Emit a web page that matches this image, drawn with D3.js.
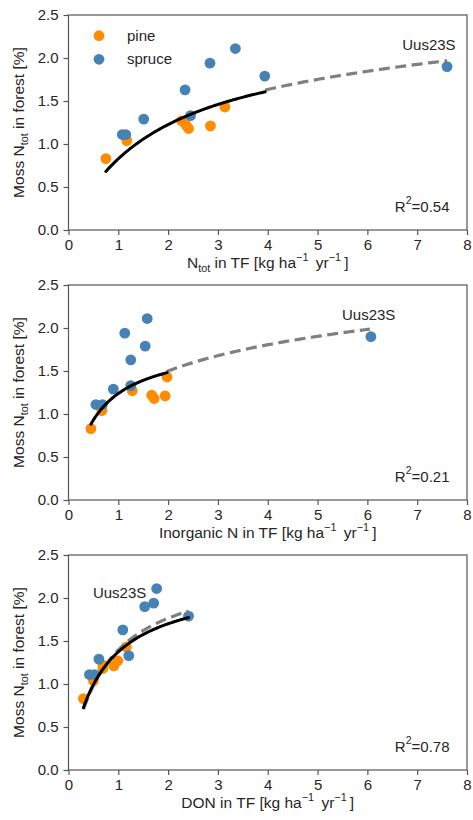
<!DOCTYPE html>
<html>
<head>
<meta charset="utf-8">
<script src="https://cdn.jsdelivr.net/npm/d3@7"></script>
<style>
  body { margin: 0; background: #fff; }
  text { font-family: "Liberation Sans", Arial, Helvetica, sans-serif; fill: #262626; }
</style>
</head>
<body>
<svg id="chart" width="473" height="820"></svg>
<script>
// Moss N concentration in forest sites against throughfall (TF) N deposition,
// with total N, inorganic N and dissolved organic N (DON) on the x axis.

const xTicks = [0, 1, 2, 3, 4, 5, 6, 7, 8];
const yTicks = [0, 0.5, 1.0, 1.5, 2.0, 2.5];
const speciesNames = ["pine", "spruce"];

// Moss N in forest [%], one entry per site (same sites in every panel)
const pineMossN   = [0.83, 1.04, 1.27, 1.22, 1.18, 1.21, 1.43];
const spruceMossN = [1.11, 1.11, 1.29, 1.63, 1.33, 1.94, 2.11, 1.79, 1.90];

// Throughfall deposition [kg ha-1 yr-1]
const pineNtot    = [0.75, 1.17, 2.27, 2.36, 2.41, 2.85, 3.14];
const pineInorgN  = [0.45, 0.67, 1.28, 1.67, 1.72, 1.94, 1.98];
const pineDON     = [0.30, 0.50, 0.99, 0.69, 0.69, 0.91, 1.16];
const spruceNtot   = [1.08, 1.15, 1.51, 2.34, 2.45, 2.84, 3.35, 3.94, 7.60];
const spruceInorgN = [0.55, 0.68, 0.90, 1.25, 1.25, 1.13, 1.58, 1.54, 6.07];
const spruceDON    = [0.52, 0.42, 0.61, 1.09, 1.21, 1.71, 1.77, 2.41, 1.53];

// Site flagged in every panel (index into the spruce arrays)
const outlierName = "Uus23S";
const outlierIndex = 8;
const outlierLabelAt = [[6.70, 2.09], [5.49, 2.09], [0.49, 2.00]];

// Fits: saturating fit without the outlier (solid), fit including it (dashed)
// mm: y = V*x/(K+x);  log: y = a + b*ln(x)
const fitSolid = [
  { model: "mm", p: [2.36, 1.85], from: 0.75, to: 3.95 },
  { model: "mm", p: [1.85, 0.494], from: 0.45, to: 1.98 },
  { model: "mm", p: [2.23, 0.623], from: 0.30, to: 2.41 }
];
const fitDashed = [
  { model: "log", p: [0.914, 0.52], from: 3.95, to: 7.60 },
  { model: "log", p: [1.195, 0.44], from: 1.97, to: 6.05 },
  { model: "mm",  p: [2.40, 0.72], from: 0.30, to: 2.41 }
];
const rSquared = ["0.54", "0.21", "0.78"];

// x-axis titles as [text, kind] runs: kind "" normal, "sub", "sup"
const xTitles = [
  [["N", ""], ["tot", "sub"], [" in TF [kg ha", ""], ["\u22121", "sup"], ["\u2009 yr", ""], ["\u22121", "sup"], ["\u2009]", ""]],
  [["Inorganic N in TF [kg ha", ""], ["\u22121", "sup"], ["\u2009 yr", ""], ["\u22121", "sup"], ["\u2009]", ""]],
  [["DON in TF [kg ha", ""], ["\u22121", "sup"], ["\u2009 yr", ""], ["\u22121", "sup"], ["\u2009]", ""]]
];
const yTitle = [["Moss N", ""], ["tot", "sub"], [" in forest [%]", ""]];

const pineX = [pineNtot, pineInorgN, pineDON];
const spruceX = [spruceNtot, spruceInorgN, spruceDON];

// ---- layout & style ----
const plotLeft = 68.5, plotRight = 467;
const panelTops = [15, 285, 555];
const plotH = 215;
const fontSize = 15;
const titleSize = 15.5;
const colorPine = "#ff8c00";
const colorSpruce = "#4682b4";
const axisColor = "#555555";

const svg = d3.select("#chart");

function fitValue(f, x) {
  return f.model === "mm" ? f.p[0] * x / (f.p[1] + x) : f.p[0] + f.p[1] * Math.log(x);
}

// write rich text runs (sub/superscripts) into a text element
function writeRuns(textSel, runs, size, supRaise = 0.47) {
  let shift = 0;
  runs.forEach(([str, kind]) => {
    let target = 0, fs = size;
    if (kind === "sup") { target = -supRaise * size; fs = 0.7 * size; }
    if (kind === "sub") { target = 0.28 * size; fs = 0.7 * size; }
    textSel.append("tspan")
      .attr("dy", target - shift)
      .attr("font-size", fs)
      .text(str);
    shift = target;
  });
}

const x = d3.scaleLinear().domain([0, 8]).range([plotLeft, plotRight]);

panelTops.forEach((top, i) => {
  const y = d3.scaleLinear().domain([0, 2.5]).range([top + plotH, top]);
  const g = svg.append("g");

  // axes
  const xAxis = d3.axisBottom(x).tickValues(xTicks).tickFormat(d3.format("d"))
    .tickSizeInner(5).tickSizeOuter(0).tickPadding(4);
  const yAxis = d3.axisLeft(y).tickValues(yTicks).tickFormat(d3.format(".1f"))
    .tickSizeInner(5).tickSizeOuter(0).tickPadding(5);

  const gx = g.append("g").attr("transform", `translate(0,${top + plotH})`).call(xAxis);
  const gy = g.append("g").attr("transform", `translate(${plotLeft},0)`).call(yAxis);
  [gx, gy].forEach(a => {
    a.select(".domain").remove();
    a.selectAll(".tick line").attr("stroke", axisColor).attr("stroke-width", 1.2);
    a.selectAll(".tick text").attr("font-size", fontSize).attr("fill", "#262626")
      .style("font-family", '"Liberation Sans", Arial, sans-serif');
  });

  // frame
  g.append("rect")
    .attr("x", plotLeft).attr("y", top)
    .attr("width", plotRight - plotLeft).attr("height", plotH)
    .attr("fill", "none").attr("stroke", axisColor).attr("stroke-width", 1.2);

  // points: pine below spruce
  g.append("g").selectAll("circle")
    .data(pineX[i].map((v, k) => [v, pineMossN[k]]))
    .join("circle")
    .attr("cx", d => x(d[0])).attr("cy", d => y(d[1]))
    .attr("r", 5.4).attr("fill", colorPine);
  g.append("g").selectAll("circle")
    .data(spruceX[i].map((v, k) => [v, spruceMossN[k]]))
    .join("circle")
    .attr("cx", d => x(d[0])).attr("cy", d => y(d[1]))
    .attr("r", 5.4).attr("fill", colorSpruce);

  // fitted curves
  const line = d3.line().x(d => x(d[0])).y(d => y(d[1])).curve(d3.curveLinear);
  const curvePts = f => {
    const n = 80, out = [];
    for (let k = 0; k <= n; k++) {
      const xv = f.from + (f.to - f.from) * k / n;
      out.push([xv, fitValue(f, xv)]);
    }
    return out;
  };
  g.append("path").attr("d", line(curvePts(fitDashed[i])))
    .attr("fill", "none").attr("stroke", "#808080").attr("stroke-width", 3.2)
    .attr("stroke-dasharray", "11,5.5");
  g.append("path").attr("d", line(curvePts(fitSolid[i])))
    .attr("fill", "none").attr("stroke", "#000").attr("stroke-width", 3)
    .attr("stroke-linecap", "round");

  // outlier label
  g.append("text")
    .attr("x", x(outlierLabelAt[i][0])).attr("y", y(outlierLabelAt[i][1]))
    .attr("font-size", fontSize).text(outlierName);

  // R^2
  const r2 = g.append("text")
    .attr("x", 449.5).attr("y", top + plotH - 18.5)
    .attr("text-anchor", "end").attr("font-size", fontSize);
  writeRuns(r2, [["R", ""], ["2", "sup"], ["=" + rSquared[i], ""]], fontSize);

  // x title
  const xt = g.append("text")
    .attr("x", (plotLeft + plotRight) / 2).attr("y", top + plotH + 37.5)
    .attr("text-anchor", "middle").attr("font-size", titleSize);
  writeRuns(xt, xTitles[i], titleSize, 0.4);

  // y title
  const yt = g.append("text")
    .attr("transform", `translate(24,${top + plotH / 2}) rotate(-90)`)
    .attr("text-anchor", "middle").attr("font-size", titleSize);
  writeRuns(yt, yTitle, titleSize);

  // legend in the first panel
  if (i === 0) {
    const leg = g.append("g");
    speciesNames.forEach((name, k) => {
      leg.append("circle").attr("cx", 99).attr("cy", 35.7 + k * 23.6)
        .attr("r", 5.4).attr("fill", k === 0 ? colorPine : colorSpruce);
      leg.append("text").attr("x", 127).attr("y", 35.7 + k * 23.6 + 5)
        .attr("font-size", fontSize).text(name);
    });
  }
});
</script>
</body>
</html>
